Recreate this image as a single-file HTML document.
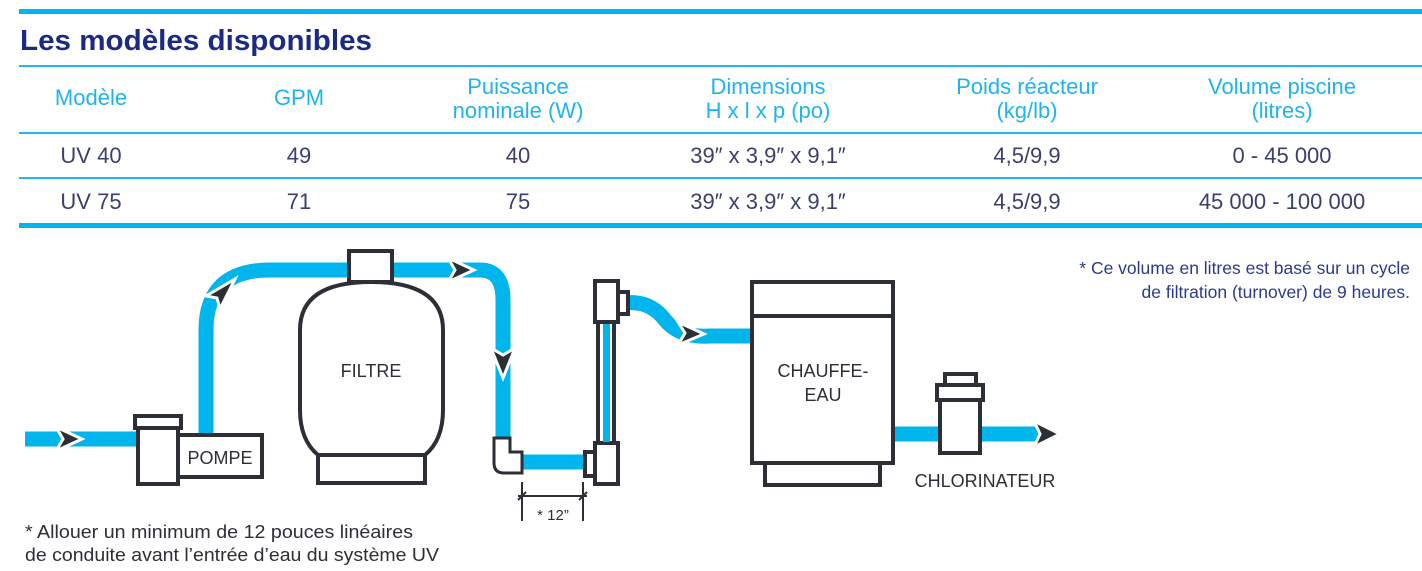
<!DOCTYPE html>
<html><head><meta charset="utf-8"><style>
html,body{margin:0;padding:0;background:#fff;}
svg{display:block;}
text{font-family:"Liberation Sans","DejaVu Sans",sans-serif;}
</style></head><body>
<svg width="1422" height="571" viewBox="0 0 1422 571" xmlns="http://www.w3.org/2000/svg">
<rect x="19" y="9" width="1403" height="5" fill="#00b4ec"/>
<text x="20" y="50" font-size="29" font-weight="bold" fill="#1b2a85" textLength="352" lengthAdjust="spacingAndGlyphs">Les modèles disponibles</text>
<rect x="19" y="65" width="1403" height="2" fill="#22b8ee"/>
<rect x="19" y="132" width="1403" height="2" fill="#22b8ee"/>
<rect x="19" y="177" width="1403" height="2" fill="#22b8ee"/>
<rect x="19" y="223" width="1403" height="5" fill="#00b4ec"/>
<g font-size="22" fill="#1fb4ea" text-anchor="middle">
<text x="91" y="105">Modèle</text>
<text x="299" y="105">GPM</text>
<text x="518" y="94">Puissance</text><text x="518" y="118">nominale (W)</text>
<text x="768" y="94">Dimensions</text><text x="768" y="118">H x l x p (po)</text>
<text x="1027" y="94">Poids réacteur</text><text x="1027" y="118">(kg/lb)</text>
<text x="1282" y="94">Volume piscine</text><text x="1282" y="118">(litres)</text>
</g>
<g font-size="22" fill="#3b3f6e" text-anchor="middle">
<text x="91" y="163">UV 40</text><text x="299" y="163">49</text><text x="518" y="163">40</text>
<text x="768" y="163">39″ x 3,9″ x 9,1″</text><text x="1027" y="163">4,5/9,9</text><text x="1282" y="163">0 - 45 000</text>
<text x="91" y="209">UV 75</text><text x="299" y="209">71</text><text x="518" y="209">75</text>
<text x="768" y="209">39″ x 3,9″ x 9,1″</text><text x="1027" y="209">4,5/9,9</text><text x="1282" y="209">45 000 - 100 000</text>
</g>
<g font-size="17.5" fill="#2c3a8c" text-anchor="end">
<text x="1410" y="274">* Ce volume en litres est basé sur un cycle</text>
<text x="1410" y="298">de filtration (turnover) de 9 heures.</text>
</g>
<g fill="none" stroke="#00b4ec" stroke-width="15">
<path d="M25 439 H140"/>
<path d="M206 436 V330 Q206 270 270 270 H480 Q503 270 503 300 V445"/>
<path d="M520 462 H590"/>
<path d="M625 303 Q650 300 665 320 Q680 338 710 336 H755"/>
<path d="M890 434 H1040"/>
</g>
<g fill="#2d2f36" stroke="#fff" stroke-width="3">
<path d="M56 427 L82 439 L56 451 L63 439 Z"/>
<path d="M448 258 L474 270 L448 282 L455 270 Z"/>
<path d="M491 348 L503 378 L515 348 L503 355 Z"/>
<path d="M206 296 L235 279 L220 309 L217 298 Z"/>
<path d="M678 322 L704 334 L678 345 L685 333 Z"/>
<path d="M1034 421 L1060 434 L1034 447 L1040 434 Z"/>
</g>
<g fill="#fff" stroke="#2d2f36" stroke-width="4">
<rect x="178" y="435" width="84" height="42"/>
<rect x="138" y="428" width="40" height="56"/>
<rect x="135" y="416" width="46" height="12"/>
<rect x="318" y="455" width="107" height="28"/>
<path d="M300 330 Q300 282 371 282 Q443 282 443 330 V410 Q443 440 425 455 H318 Q300 440 300 410 Z"/>
<rect x="349" y="251" width="43" height="31"/>
<path d="M494 438 H510 V452 H522 V473 H504 Q494 473 494 463 Z" stroke-width="3"/>
<rect x="598" y="322" width="16" height="122"/>
<rect x="595" y="281" width="23" height="41"/>
<rect x="618" y="292" width="10" height="22"/>
<rect x="595" y="443" width="23" height="41"/>
<rect x="585" y="452" width="10" height="24"/>
<rect x="765" y="463" width="115" height="22"/>
<rect x="752" y="282" width="141" height="181"/>
<line x1="752" y1="316" x2="893" y2="316"/>
<rect x="940" y="400" width="40" height="53"/>
<rect x="937" y="385" width="46" height="15"/>
<rect x="945" y="374" width="31" height="11"/>
</g>
<rect x="603" y="324" width="7" height="118" fill="#00b4ec"/>
<g stroke="#2d2f36" stroke-width="2">
<line x1="522" y1="482" x2="522" y2="521"/><line x1="583" y1="482" x2="583" y2="521"/>
<line x1="518" y1="496" x2="587" y2="496"/>
<line x1="518" y1="500" x2="526" y2="492"/><line x1="579" y1="500" x2="587" y2="492"/>
</g>
<g fill="#2d2f36" font-size="18">
<text x="371" y="377" text-anchor="middle">FILTRE</text>
<text x="220" y="464" text-anchor="middle">POMPE</text>
<text x="823" y="377" text-anchor="middle">CHAUFFE-</text>
<text x="823" y="401" text-anchor="middle">EAU</text>
<text x="985" y="487" text-anchor="middle">CHLORINATEUR</text>
<text x="553" y="520" text-anchor="middle" font-size="15" font-family="Liberation Serif">* 12”</text>
<text x="25" y="538" font-size="18" textLength="388" lengthAdjust="spacingAndGlyphs">* Allouer un minimum de 12 pouces linéaires</text>
<text x="25" y="561" font-size="18" textLength="414" lengthAdjust="spacingAndGlyphs">de conduite avant l’entrée d’eau du système UV</text>
</g>
</svg>
</body></html>
